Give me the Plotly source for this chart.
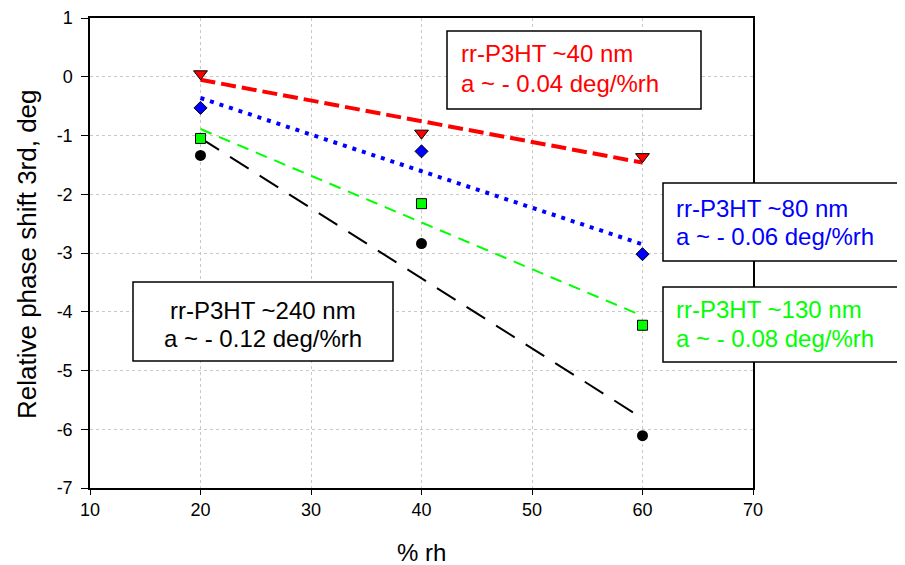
import numpy as np
import plotly.graph_objects as go

rh = [20, 40, 60]
shift_40nm = [0.05, -0.96, -1.36]
shift_80nm = [-0.53, -1.27, -3.02]
shift_130nm = [-1.05, -2.16, -4.23]
shift_240nm = [-1.34, -2.84, -6.11]

x_ticks = [10, 20, 30, 40, 50, 60, 70]
y_ticks = [1, 0, -1, -2, -3, -4, -5, -6, -7]
y_tick_labels = ["1", "0", "-1", "-2", "-3", "-4", "-5", "-6", "-7"]

FONT = "Liberation Sans, Arial"

series = [
    (shift_40nm, "#FF0000", "triangle-down", 12, "15px,6px", 4),
    (shift_80nm, "#0000FF", "diamond", 10, "4px,6px", 4),
    (shift_130nm, "#00FF00", "square", 10, "12px,8px", 2),
    (shift_240nm, "#000000", "circle", 11, "22px,13px", 2),
]

fig = go.Figure()
for ys, col, sym, sz, dash, lw in series:
    k, b = np.polyfit(rh, ys, 1)
    fit = [k * x + b for x in rh]
    fig.add_trace(go.Scatter(x=rh, y=fit, mode="lines",
                             line=dict(color=col, width=lw, dash=dash),
                             showlegend=False, hoverinfo="skip"))
for ys, col, sym, sz, dash, lw in series:
    fig.add_trace(go.Scatter(x=rh, y=ys, mode="markers",
                             marker=dict(symbol=sym, size=sz, color=col,
                                         line=dict(color="black", width=1 if col != "#000000" else 0)),
                             showlegend=False))

# The page body has an 8px margin, so the figure is drawn 8px smaller and
# all reference pixel positions are shifted by -8.
OFF = 8
W, H = 905 - OFF, 565 - OFF
L, R, T, B = 90 - OFF, 753 - OFF, 18 - OFF, 488 - OFF
def px(x):
    return (x - OFF - L) / (R - L)
def py(y):
    return (B - (y - OFF)) / (B - T)

boxes = [
    (447, 701, 31, 109),
    (663, 915, 183, 261),
    (663, 915, 287, 362),
    (133, 393, 282, 361),
]
for x0, x1, y0, y1 in boxes:
    fig.add_shape(type="rect", xref="paper", yref="paper",
                  x0=px(x0), x1=px(x1), y0=py(y1), y1=py(y0),
                  line=dict(color="black", width=1.5), fillcolor="white", layer="above")

labels = [
    ("rr-P3HT ~40 nm", "#FF0000", 459, 53, "left"),
    ("a ~ - 0.04 deg/%rh", "#FF0000", 459, 83, "left"),
    ("rr-P3HT ~80 nm", "#0000FF", 674, 208, "left"),
    ("a ~ - 0.06 deg/%rh", "#0000FF", 674, 236, "left"),
    ("rr-P3HT ~130 nm", "#00FF00", 674, 309, "left"),
    ("a ~ - 0.08 deg/%rh", "#00FF00", 674, 338, "left"),
    ("rr-P3HT ~240 nm", "#000000", 263, 310, "center"),
    ("a ~ - 0.12 deg/%rh", "#000000", 263, 338, "center"),
]
for txt, col, x, y, anc in labels:
    fig.add_annotation(text=txt, xref="paper", yref="paper", x=px(x), y=py(y),
                       xanchor=anc, yanchor="middle", showarrow=False,
                       font=dict(family=FONT, size=24, color=col))

# axis titles
fig.add_annotation(text="% rh", xref="paper", yref="paper", x=px(421), y=py(552),
                   xanchor="center", yanchor="middle", showarrow=False,
                   font=dict(family=FONT, size=24, color="black"))
fig.add_annotation(text="Relative phase shift 3rd, deg", xref="paper", yref="paper",
                   x=px(27), y=py(254), textangle=-90,
                   xanchor="center", yanchor="middle", showarrow=False,
                   font=dict(family=FONT, size=26, color="black"))

axis_common = dict(showline=True, linecolor="black", linewidth=1.5, mirror=True,
                   ticks="outside", tickcolor="black", tickwidth=1,
                   showgrid=True, gridcolor="#c8c8c8", griddash="dot", gridwidth=1,
                   zeroline=False, automargin=False,
                   tickfont=dict(family=FONT, size=18, color="black"))

fig.update_xaxes(range=[10, 70], tickvals=x_ticks, ticklen=5, **axis_common)
fig.update_yaxes(range=[-7, 1], tickvals=y_ticks, ticktext=y_tick_labels,
                 ticklen=7, ticklabelstandoff=5, **axis_common)

fig.update_layout(width=W, height=H, margin=dict(l=L, r=W - R, t=T, b=H - B),
                  plot_bgcolor="white", paper_bgcolor="white")

fig.write_html("out.html")
